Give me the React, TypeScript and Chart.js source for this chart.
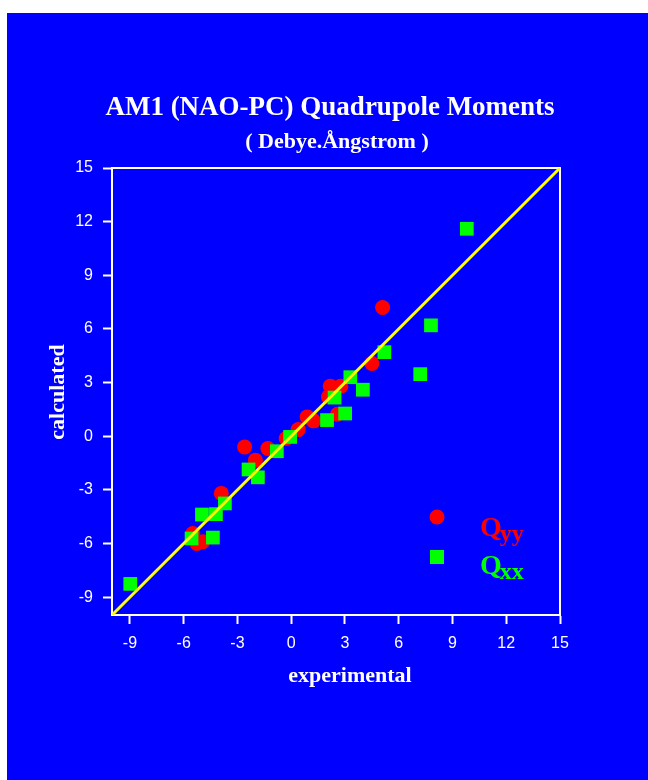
import React, { useEffect, useRef } from 'react';
import { Chart, registerables } from 'chart.js';

Chart.register(...registerables);

// Titles and labels
const TITLE = 'AM1 (NAO-PC) Quadrupole Moments';
const SUBTITLE = '( Debye.Ångstrom )';
const X_TITLE = 'experimental';
const Y_TITLE = 'calculated';

// Axis range and tick values (same for both axes)
const AXIS_MIN = -10;
const AXIS_MAX = 15;
const TICK_VALUES = [-9, -6, -3, 0, 3, 6, 9, 12, 15];

// Identity line y = x across the whole plot
const IDENTITY = [-10, 15];

// Q_yy: experimental vs calculated
const qyyExp = [5.1, 4.5, 2.18, 2.77, 2.08, 2.58, 0.89, 1.25, 0.39, -0.28, -1.3, -2.6, -2.0, -3.9, -5.49, -5.26, -4.93];
const qyyCalc = [7.2, 4.07, 2.8, 2.8, 2.2, 1.23, 1.08, 0.86, 0.37, -0.13, -0.69, -0.6, -1.34, -3.2, -5.44, -6.0, -5.9];

// Q_xx: experimental vs calculated
const qxxExp = [9.8, 7.8, 5.2, 7.2, 3.3, 4.0, 2.42, 3.01, 2.0, -0.06, -0.8, -2.38, -1.86, -3.7, -4.2, -4.98, -5.56, -4.37, -8.98];
const qxxCalc = [11.6, 6.2, 4.7, 3.47, 3.3, 2.6, 2.16, 1.27, 0.9, -0.04, -0.84, -1.86, -2.3, -3.76, -4.36, -4.38, -5.72, -5.67, -8.26];

const BLUE = '#0000ff';
const RED = '#ff0000';
const GREEN = '#00ff00';
const YELLOW = '#ffff00';
const WHITE = '#ffffff';
const SERIF = '"Liberation Serif", "Times New Roman", serif';
const SANS = '"Liberation Sans", Arial, sans-serif';

const W = 648;
const H = 780;

const zip = (xs: number[], ys: number[]) => xs.map((x, i) => ({ x, y: ys[i] }));

// Background panel, plot frame, titles and in-plot legend
const decorPlugin = {
  id: 'decor',
  beforeDraw(chart: any) {
    const { ctx } = chart;
    ctx.save();
    ctx.fillStyle = WHITE;
    ctx.fillRect(0, 0, W, H);
    ctx.fillStyle = BLUE;
    ctx.fillRect(7, 13, W - 7, H - 13);
    ctx.restore();
  },
  beforeDatasetsDraw(chart: any) {
    const { ctx, chartArea: a } = chart;
    ctx.save();
    ctx.strokeStyle = WHITE;
    ctx.lineWidth = 2;
    ctx.beginPath();
    ctx.moveTo(a.left, a.top);
    ctx.lineTo(a.right, a.top);
    ctx.lineTo(a.right, a.bottom);
    ctx.stroke();
    ctx.restore();
  },
  afterDraw(chart: any) {
    const { ctx, chartArea: a } = chart;
    ctx.save();
    ctx.fillStyle = WHITE;
    ctx.textAlign = 'center';
    ctx.textBaseline = 'alphabetic';
    ctx.font = `bold 27px ${SERIF}`;
    ctx.fillText(TITLE, 330, 115);
    ctx.font = `bold 22px ${SERIF}`;
    ctx.fillText(SUBTITLE, 337, 148);
    ctx.font = `bold 22px ${SERIF}`;
    ctx.fillText(X_TITLE, 350, 682);
    ctx.save();
    ctx.translate(64, 392);
    ctx.rotate(-Math.PI / 2);
    ctx.fillText(Y_TITLE, 0, 0);
    ctx.restore();

    // legend inside the plot
    const lx = a.left + 325;
    const ly1 = a.top + 349;
    const ly2 = a.top + 389;
    ctx.fillStyle = RED;
    ctx.beginPath();
    ctx.arc(lx, ly1, 7.5, 0, Math.PI * 2);
    ctx.fill();
    ctx.fillStyle = GREEN;
    ctx.fillRect(lx - 7, ly2 - 7, 14, 14);

    const drawQ = (sub: string, color: string, baseline: number) => {
      ctx.fillStyle = color;
      ctx.textAlign = 'left';
      ctx.font = `bold 28px ${SERIF}`;
      ctx.fillText('Q', lx + 43, baseline);
      const qw = ctx.measureText('Q').width;
      ctx.font = `bold 24px ${SERIF}`;
      ctx.fillText(sub, lx + 43 + qw - 2, baseline + 5);
    };
    drawQ('yy', RED, a.top + 368);
    drawQ('xx', GREEN, a.top + 406);
    ctx.restore();
  },
};

const tickList = () => TICK_VALUES.map((value) => ({ value }));

export default function App() {
  const ref = useRef<HTMLCanvasElement | null>(null);

  useEffect(() => {
    if (!ref.current) return;
    const axis = (isY: boolean) => ({
      type: 'linear' as const,
      position: isY ? ('left' as const) : ('bottom' as const),
      min: AXIS_MIN,
      max: AXIS_MAX,
      afterBuildTicks(scale: any) {
        scale.ticks = tickList();
      },
      afterFit(scale: any) {
        if (isY) scale.width = 40;
        else scale.height = 40;
      },
      grid: {
        drawOnChartArea: false,
        drawTicks: true,
        tickLength: 9,
        tickWidth: 2,
        tickColor: WHITE,
      },
      border: { display: true, color: WHITE, width: 2 },
      ticks: {
        color: WHITE,
        padding: 10,
        font: { family: SANS, size: 16 },
        autoSkip: false,
        maxRotation: 0,
      },
      title: { display: false },
    });

    const chart = new Chart(ref.current, {
      type: 'scatter',
      data: {
        datasets: [
          {
            label: 'y = x',
            type: 'line',
            data: zip(IDENTITY, IDENTITY),
            borderColor: YELLOW,
            borderWidth: 3,
            pointRadius: 0,
            showLine: true,
            fill: false,
            order: 0,
          } as any,
          {
            label: 'Qxx',
            data: zip(qxxExp, qxxCalc),
            pointStyle: 'rect',
            pointRadius: 9.7,
            backgroundColor: GREEN,
            borderWidth: 0,
            order: 1,
          },
          {
            label: 'Qyy',
            data: zip(qyyExp, qyyCalc),
            pointStyle: 'circle',
            pointRadius: 7.5,
            backgroundColor: RED,
            borderWidth: 0,
            order: 2,
          },
        ],
      },
      options: {
        animation: false,
        responsive: false,
        devicePixelRatio: 1,
        layout: { padding: { left: 72, top: 168, right: 88, bottom: 125 } },
        plugins: {
          legend: { display: false },
          tooltip: { enabled: false },
          title: { display: false },
        },
        scales: {
          x: axis(false),
          y: axis(true),
        },
      },
      plugins: [decorPlugin],
    });
    return () => chart.destroy();
  }, []);

  return (
    <div style={{ position: 'absolute', left: 0, top: 0, width: W, height: H }}>
      <canvas ref={ref} width={W} height={H} style={{ display: 'block' }} />
    </div>
  );
}
